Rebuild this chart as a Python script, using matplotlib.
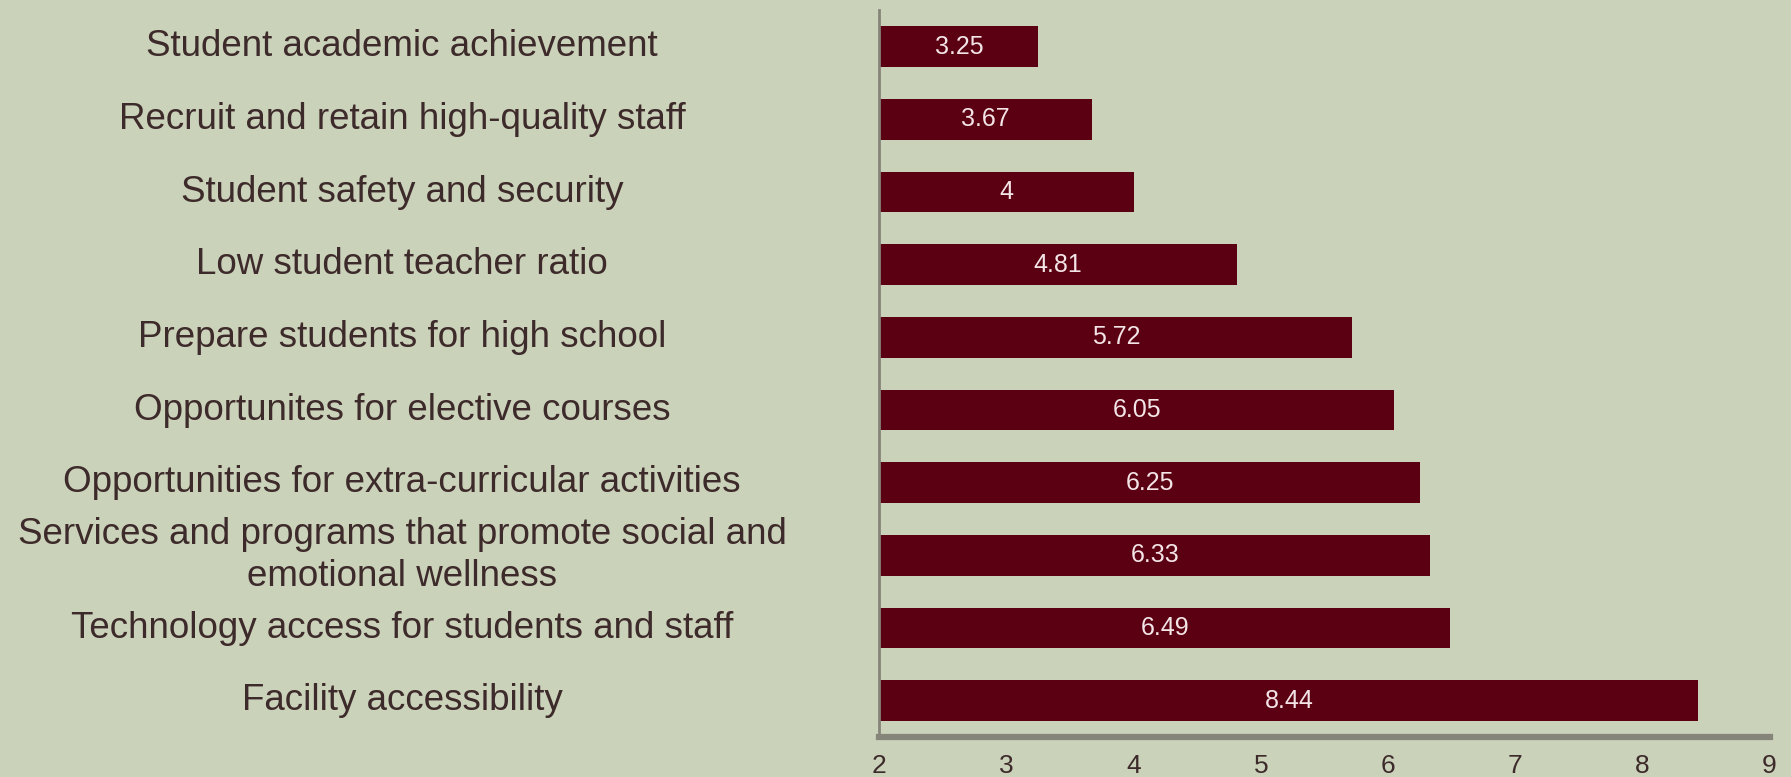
import numpy as np
import matplotlib.pyplot as plt
from matplotlib.transforms import blended_transform_factory

# survey priorities, top row first
categories = [
    "Student academic achievement",
    "Recruit and retain high-quality staff",
    "Student safety and security",
    "Low student teacher ratio",
    "Prepare students for high school",
    "Opportunites for elective courses",
    "Opportunities for extra-curricular activities",
    "Services and programs that promote social and\nemotional wellness",
    "Technology access for students and staff",
    "Facility accessibility",
]
scores = [3.25, 3.67, 4, 4.81, 5.72, 6.05, 6.25, 6.33, 6.49, 8.44]
score_labels = ["3.25", "3.67", "4", "4.81", "5.72", "6.05", "6.25", "6.33", "6.49", "8.44"]
x_ticks = [2, 3, 4, 5, 6, 7, 8, 9]

bg = "#cbd2ba"
bar_color = "#5a0012"
text_color = "#3d2a2a"
axis_color = "#85857a"

plt.rcParams['font.family'] = ['Liberation Sans', 'DejaVu Sans']

fig = plt.figure(figsize=(17.91, 7.77), dpi=100, facecolor=bg)
ax = fig.add_axes([0.491, 0.0515, 0.497, 0.935], facecolor=bg)

base = x_ticks[0]
y = np.arange(len(categories))
ax.barh(y, np.array(scores) - base, left=base, height=0.56, color=bar_color)

# value labels centred in each bar
for yi, v, lab in zip(y, scores, score_labels):
    ax.text((base + v) / 2, yi, lab, ha='center', va='center',
            fontsize=18, color='#f3e4e6')

ax.set_xlim(x_ticks[0], x_ticks[-1])
ax.set_ylim(len(categories) - 0.5, -0.5)
ax.set_xticks(x_ticks)
ax.set_xticklabels([str(t) for t in x_ticks], fontsize=19, color=text_color)
ax.tick_params(axis='x', length=0, pad=12)
ax.set_yticks([])

# category names centred in the left column
label_tf = blended_transform_factory(fig.transFigure, ax.transData)
for yi, name in zip(y, categories):
    ax.text(0.2245, yi, name, transform=label_tf, ha='center', va='center',
            fontsize=26.5, color=text_color, linespacing=1.25)

for side in ('top', 'right'):
    ax.spines[side].set_visible(False)
ax.spines['left'].set_color(axis_color)
ax.spines['left'].set_linewidth(2)
ax.spines['bottom'].set_color(axis_color)
ax.spines['bottom'].set_linewidth(4.5)

fig.savefig('out.png', dpi=100, facecolor=bg)
